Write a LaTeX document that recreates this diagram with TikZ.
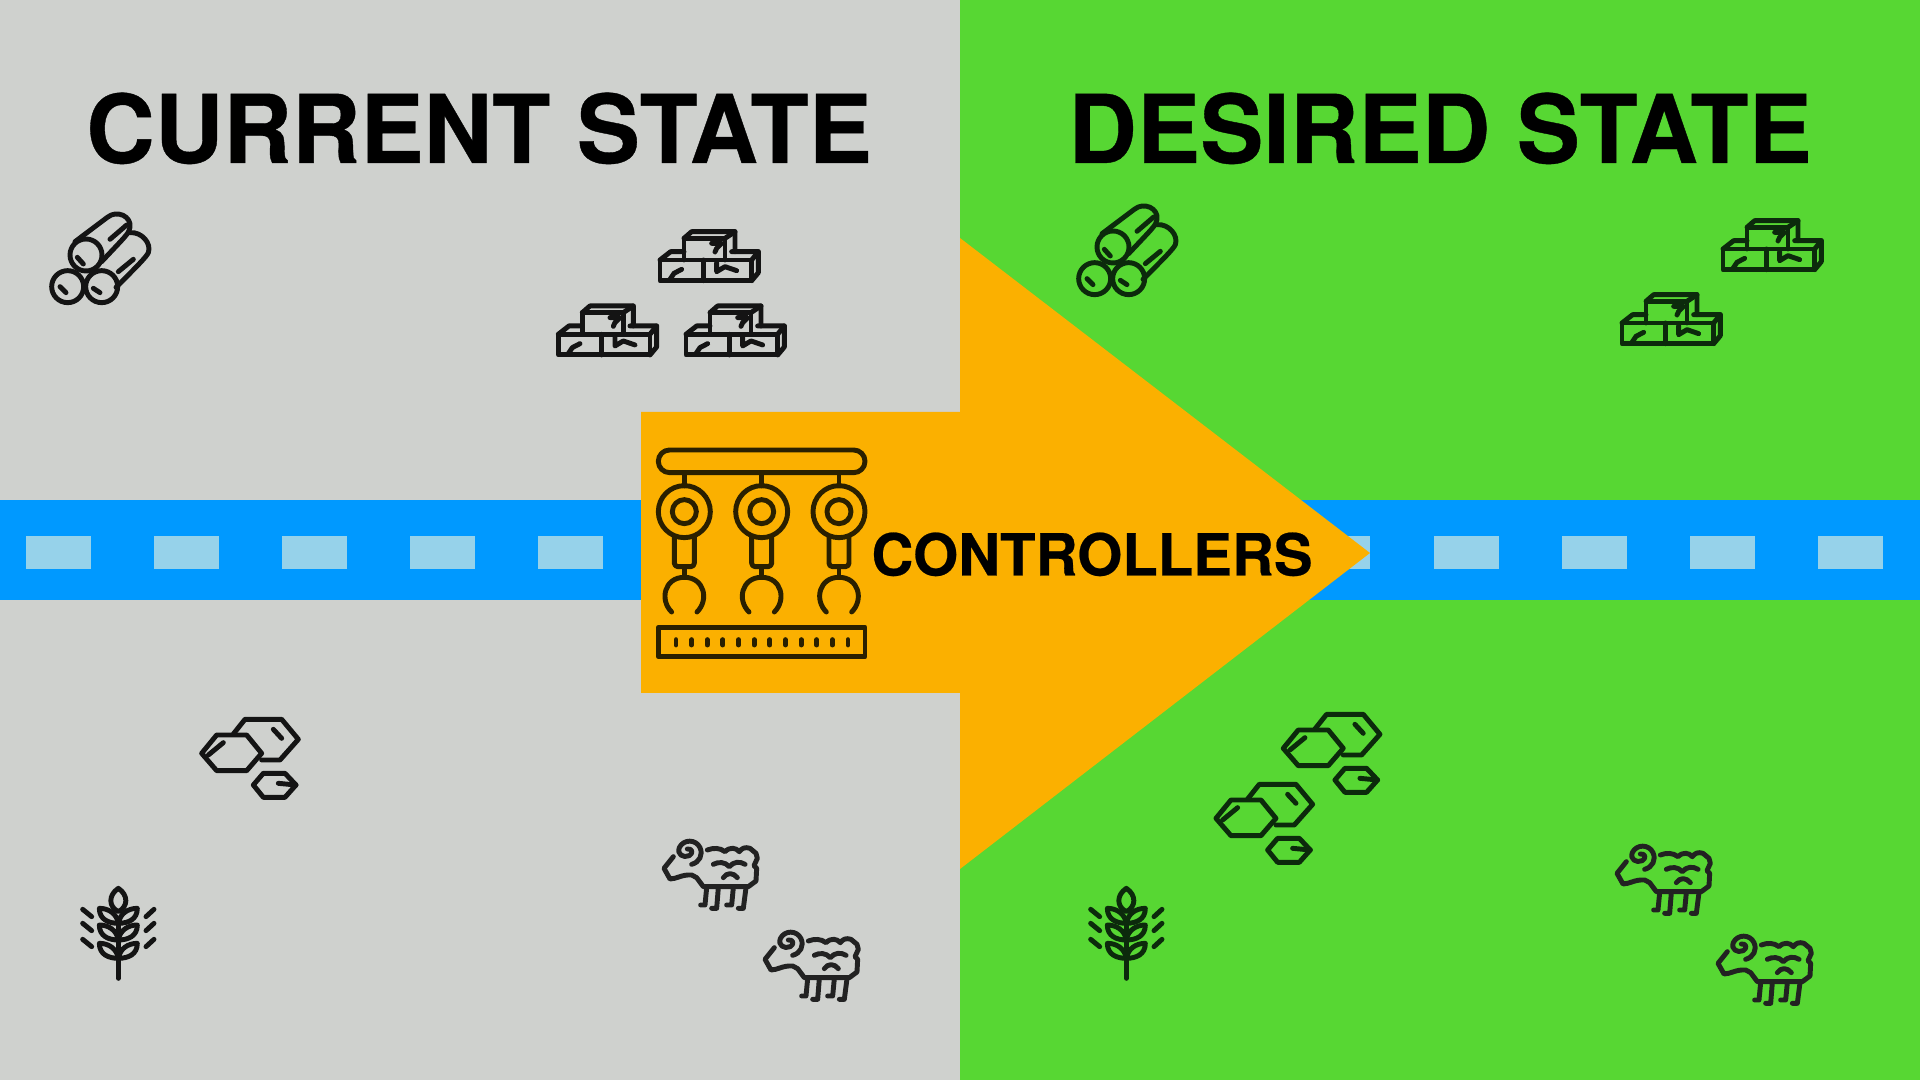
\documentclass[tikz,border=0pt]{standalone}
\usepackage{fontspec}
\setmainfont{TeX Gyre Heros}
\newfontfamily\heavyfont{TeX Gyre Heros}[BoldFeatures={FakeBold=0.4}]
\definecolor{leftbg}{HTML}{CFD1CE}
\definecolor{rightbg}{HTML}{57D733}
\definecolor{bandblue}{HTML}{0099FF}
\definecolor{dashblue}{HTML}{96D2EA}
\definecolor{arroworange}{HTML}{FBB000}
\definecolor{inkgray}{HTML}{141414}
\definecolor{inkgreen}{HTML}{0C2A0C}
\definecolor{inkbrown}{HTML}{2A2000}
\definecolor{inksheep}{HTML}{222222}
\tikzset{
  iconline/.style={line width=1.4pt,line cap=round,line join=round},
  titletext/.style={anchor=base,inner sep=0pt,font=\heavyfont\bfseries\fontsize{27}{30}\selectfont,text=black},
  pics/logs/.style={code={\begin{scope}[scale=1/3,iconline,#1]
    \draw (168,195) circle (48);
    \draw (113,290) circle (48);
    \draw (215,290) circle (48);
    \draw (135,155) -- (232,82) .. controls (262,58) and (305,80) .. (300,112) .. controls (298,130) and (285,140) .. (215,215);
    \draw (300,128) .. controls (335,125) and (365,160) .. (355,188) .. controls (350,200) and (320,230) .. (258,292);
    \draw (240,148) -- (290,105);
    \draw (265,245) -- (310,208);
    \draw (142,202) -- (160,222);
    \draw (90,290) -- (108,308);
    \draw (190,295) -- (210,308);
  \end{scope}}},
  pics/bricks/.style={code={\begin{scope}[scale=1/3,iconline,#1]
    \draw (360,150) rectangle (635,212);
    \draw (490,150) -- (490,212);
    \draw (360,150) -- (392,125) -- (432,125);
    \draw (575,125) -- (655,125) -- (655,188) -- (635,212);
    \draw (635,150) -- (655,125);
    \draw (432,150) -- (432,85) -- (555,85) -- (555,150);
    \draw (432,85) -- (455,65) -- (585,65) -- (585,125);
    \draw (555,85) -- (585,65);
    \draw (390,208) -- (402,190) -- (425,178);
    \draw (530,158) -- (530,185) -- (555,170) -- (590,182);
    \draw (515,100) -- (545,100) -- (530,115) -- (525,126);
  \end{scope}}},
  pics/hexes/.style={code={\begin{scope}[scale=1/3,iconline,#1]
    \draw (130,102) -- (165,58) -- (275,58) -- (325,118) -- (270,180) -- (215,180);
    \draw (35,160) -- (80,105) -- (170,105) -- (215,160) -- (170,212) -- (80,212) -- cycle;
    \draw (55,165) -- (100,128);
    \draw (250,88) -- (275,115);
    \draw (190,255) -- (220,220) -- (285,220) -- (318,255) -- (285,292) -- (220,292) -- cycle;
    \draw (265,250) -- (318,255);
  \end{scope}}},
  pics/sheep/.style={code={\begin{scope}[scale=1/3,iconline,#1]
    \draw (125,118) .. controls (148,112) and (160,90) .. (150,68) .. controls (138,42) and (100,42) .. (88,68) .. controls (80,88) and (100,100) .. (118,92) .. controls (130,85) and (128,70) .. (112,72);
    \draw (70,95) -- (42,130) -- (60,162) .. controls (80,162) and (95,148) .. (125,150) -- (140,158) -- (160,185) -- (295,185) -- (318,168) -- (320,130) -- (312,122) -- (322,100) -- (318,85) -- (300,70) .. controls (285,65) and (275,70) .. (268,80) .. controls (258,68) and (240,65) .. (225,80) .. controls (210,68) and (190,68) .. (172,75);
    \draw (190,118) .. controls (205,110) and (225,110) .. (238,125) .. controls (250,110) and (270,108) .. (285,118);
    \draw (220,158) .. controls (230,142) and (250,142) .. (262,158);
    \draw (170,188) -- (165,240) -- (152,240);
    \draw (205,188) -- (200,250) -- (185,250);
    \draw (250,188) -- (245,240) -- (230,240);
    \draw (288,188) -- (280,250) -- (265,250);
  \end{scope}}},
  pics/wheat/.style={code={\begin{scope}[scale=1/3,iconline,#1]
    \draw (145,25) .. controls (115,45) and (115,80) .. (145,95) .. controls (175,80) and (175,45) .. (145,25);
    \draw (145,132) -- (145,295);
    \foreach \dy in {0,50,105}{
      \begin{scope}[yshift=\dy*0.01cm*-1]
      \draw (145,130) .. controls (115,130) and (88,118) .. (88,85) .. controls (115,85) and (140,100) .. (145,130);
      \draw (145,130) .. controls (175,130) and (202,118) .. (202,85) .. controls (175,85) and (150,100) .. (145,130);
      \end{scope}
    }
    \foreach \yy in {88,130,178}{
      \draw (38,\yy) -- (65,\yy+22);
      \draw (252,\yy) -- (228,\yy+22);
    }
  \end{scope}}},
  pics/robots/.style={code={\begin{scope}[scale=1/3,iconline,#1]
    \draw[rounded corners=3.2pt] (55,60) rectangle (675,128);
    \draw (55,592) rectangle (675,680);
    \foreach \xx in {133,365,597}{
      \draw (\xx,128) -- (\xx,168);
      \draw (\xx,245) circle (78);
      \draw (\xx,245) circle (36);
      \draw[rounded corners=1pt] (\xx-30,322) -- (\xx-30,410) -- (\xx+30,410) -- (\xx+30,322);
      \draw (\xx,410) -- (\xx,442);
      \draw (\xx-38,546) .. controls (\xx-75,510) and (\xx-60,442) .. (\xx,442) .. controls (\xx+60,442) and (\xx+75,510) .. (\xx+38,546);
    }
    \foreach \k in {0,...,11}{
      \draw (108+\k*46.9,629) -- (108+\k*46.9,645);
    }
  \end{scope}}}
}
\begin{document}
\begin{tikzpicture}[x=0.01cm,y=-0.01cm]
\useasboundingbox (0,0) rectangle (1920,1080);
\fill[leftbg] (0,0) rectangle (960,1080);
\fill[rightbg] (960,0) rectangle (1920,1080);
\fill[bandblue] (0,500) rectangle (1920,600);
\foreach \x in {26,154,282,410,538,1305,1434,1562,1690,1818}{
  \fill[dashblue] (\x,536) rectangle (\x+65,569);
}
\fill[arroworange] (641,412) -- (960,412) -- (960,238) -- (1370,553) -- (960,869) -- (960,693) -- (641,693) -- cycle;
\node[titletext] (current) at (479,163) {CURRENT STATE};
\node[titletext] (desired) at (1440,163) {DESIRED STATE};
\node[titletext,font=\heavyfont\bfseries\fontsize{16.5}{20}\selectfont] (controllers) at (1092,575.5) {CONTROLLERS};
% current state icons
\pic at (30,190) {logs={draw=inkgray}};
\pic at (540,210) {bricks={draw=inkgray}};
\pic at (438.3,284.3) {bricks={draw=inkgray}};
\pic at (566,284.3) {bricks={draw=inkgray}};
\pic at (190,700) {hexes={draw=inkgray}};
\pic at (70,880) {wheat={draw=inkgray}};
\pic at (650,825) {sheep={draw=inksheep}};
\pic at (751,916) {sheep={draw=inksheep}};
\pic at (640,430) {robots={draw=inkbrown}};
% desired state icons
\pic at (1057,182) {logs={draw=inkgreen}};
\pic at (1603,199) {bricks={draw=inkgreen}};
\pic at (1502,273) {bricks={draw=inkgreen}};
\pic at (1271.6,695) {hexes={draw=inkgreen}};
\pic at (1204.3,765) {hexes={draw=inkgreen}};
\pic at (1078,880) {wheat={draw=inkgreen}};
\pic at (1603,830) {sheep={draw=inksheep}};
\pic at (1704,920) {sheep={draw=inksheep}};
\end{tikzpicture}
\end{document}
